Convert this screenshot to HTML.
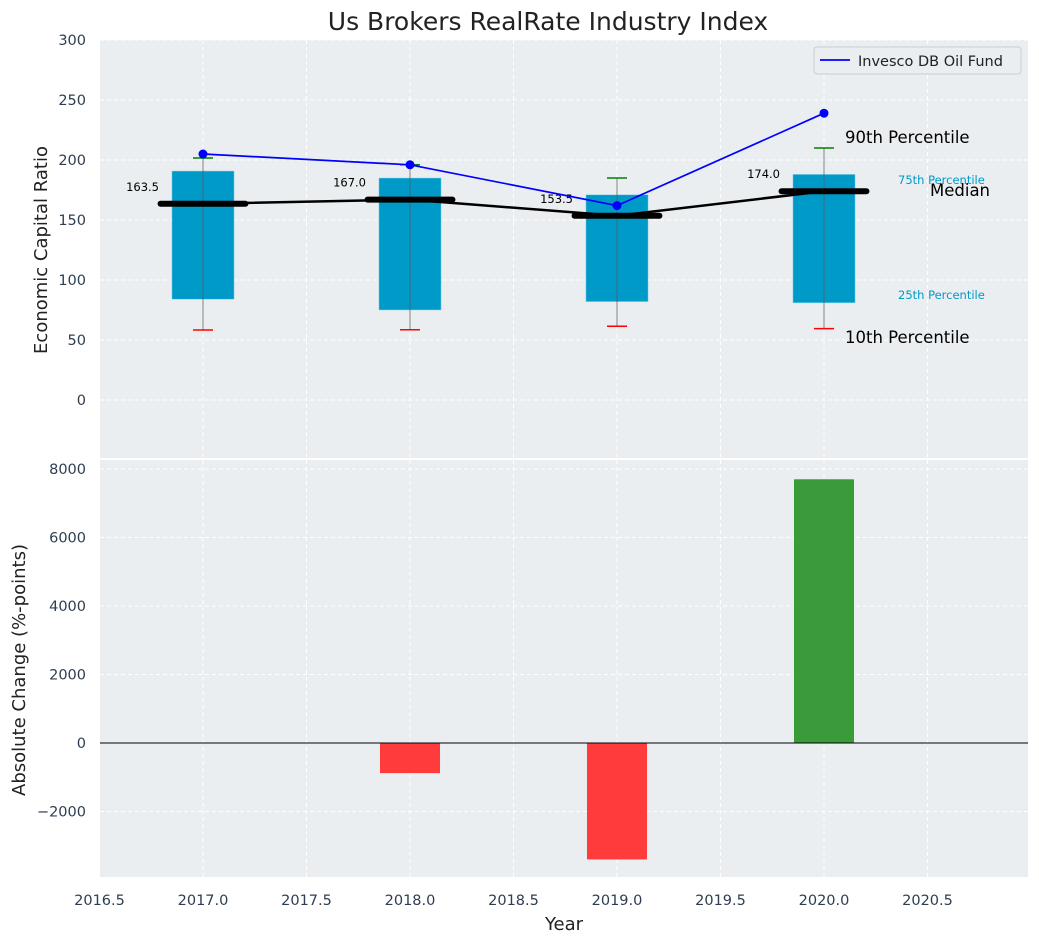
<!DOCTYPE html>
<html><head><meta charset="utf-8"><style>
body{margin:0;background:#fff;font-family:"Liberation Sans","DejaVu Sans",sans-serif}
svg text{font-family:"DejaVu Sans","Liberation Sans",sans-serif}
</style></head><body>
<svg id="c" width="1039" height="942" xmlns="http://www.w3.org/2000/svg">
<g id="gtop"></g><g id="gbot"></g>
</svg>
<script>
const years=[2017,2018,2019,2020];
const p10=[58.3,58.5,61.5,59.5];
const q25=[84,75,82,81];
const medians=[163.5,167.0,153.5,174.0];
const q75=[190.8,185,171,188];
const p90=[201.7,196,185,210];
const oil=[205,196,162,239];
const change=[0,-880,-3400,7700];
const topTicks=[0,50,100,150,200,250,300];
const botTicks=[-2000,0,2000,4000,6000,8000];
const xTicks=[2016.5,2017,2017.5,2018,2018.5,2019,2019.5,2020,2020.5];

const NS='http://www.w3.org/2000/svg';
const L=100,R=1028;
const X=v=>99.5+(v-2016.5)*207;
const YT=v=>400-v*1.2;
const YB=v=>743-v*0.03425;
function el(p,t,a,txt){const e=document.createElementNS(NS,t);for(const k in a)e.setAttribute(k,a[k]);if(txt!==undefined)e.textContent=txt;p.appendChild(e);return e;}
const svg=document.getElementById('c');
const gTop=document.getElementById('gtop'),gBot=document.getElementById('gbot');

let b=el(gTop,'rect',{x:L,y:40,width:R-L,height:418,fill:'#eaeef0'});


b=el(gBot,'rect',{x:L,y:460,width:R-L,height:417,fill:'#eaeef0'});



xTicks.forEach(t=>{
 el(gTop,'line',{x1:X(t),x2:X(t),y1:40,y2:458,stroke:'#fff','stroke-dasharray':'4,3','stroke-width':1});
 el(gBot,'line',{x1:X(t),x2:X(t),y1:460,y2:877,stroke:'#fff','stroke-dasharray':'4,3','stroke-width':1});
 const tx=el(svg,'text',{x:X(t),y:905,'text-anchor':'middle','font-size':14.5,fill:'#2e3e50'},t.toFixed(1));
 
 
});
topTicks.forEach(t=>{
 el(gTop,'line',{x1:L,x2:R,y1:YT(t),y2:YT(t),stroke:'#fff','stroke-dasharray':'4,3'});
 const tx=el(gTop,'text',{x:86,y:YT(t)+5,'text-anchor':'end','font-size':14.5,fill:'#2e3e50'},t);
 
 
});
botTicks.forEach(t=>{
 el(gBot,'line',{x1:L,x2:R,y1:YB(t),y2:YB(t),stroke:'#fff','stroke-dasharray':'4,3'});
 const tx=el(gBot,'text',{x:86,y:YB(t)+5,'text-anchor':'end','font-size':14.5,fill:'#2e3e50'},t<0?'\u2212'+(-t):t);
 
 
});

years.forEach((y,i)=>{
 const x=X(y);
 const r=el(gTop,'rect',{x:x-0.15*207,y:YT(q75[i]),width:0.3*207,height:YT(q25[i])-YT(q75[i]),fill:'#009ac9',stroke:'#8fd3e8','stroke-width':0.5});
 
 
 el(gTop,'line',{x1:x,x2:x,y1:YT(p90[i]),y2:YT(p10[i]),stroke:'#555','stroke-width':1,opacity:0.7});
 const c1=el(gTop,'line',{x1:x-10,x2:x+10,y1:YT(p90[i]),y2:YT(p90[i]),stroke:'green','stroke-width':1.5});
 
 
 const c2=el(gTop,'line',{x1:x-10,x2:x+10,y1:YT(p10[i]),y2:YT(p10[i]),stroke:'red','stroke-width':1.5});
 
 
});
let pts=years.map((y,i)=>X(y)+','+YT(medians[i])).join(' ');
let ml=el(gTop,'polyline',{points:pts,fill:'none',stroke:'#000','stroke-width':2.5});


years.forEach((y,i)=>{
 const x=X(y);
 const m=el(gTop,'line',{x1:x-0.205*207,x2:x+0.205*207,y1:YT(medians[i]),y2:YT(medians[i]),stroke:'#000','stroke-width':6,'stroke-linecap':'round'});
 
 
 const t=el(gTop,'text',{x:x-44,y:YT(medians[i])-13,'text-anchor':'end','font-size':11.5,fill:'#000'},medians[i].toFixed(1));
 
 
});
pts=years.map((y,i)=>X(y)+','+YT(oil[i])).join(' ');
let ol=el(gTop,'polyline',{points:pts,fill:'none',stroke:'#0000ff','stroke-width':1.7});


years.forEach((y,i)=>{
 const c=el(gTop,'circle',{cx:X(y),cy:YT(oil[i]),r:4.5,fill:'#0000ff'});
 
 
});
[['90th Percentile',845,143,16.5,'#000'],['10th Percentile',845,343,16.5,'#000'],['75th Percentile',898,184,11.5,'#009ac9'],['25th Percentile',898,299,11.5,'#009ac9'],['Median',930,196,16.5,'#000']].forEach(a=>{
 const t=el(gTop,'text',{x:a[1],y:a[2],'font-size':a[3],fill:a[4]},a[0]);
 
 
});
const lg=el(gTop,'g',{});


el(lg,'rect',{x:814,y:47,width:207,height:27,rx:3,fill:'#eaeef0',stroke:'#ccc'});
el(lg,'line',{x1:820,x2:850,y1:60,y2:60,stroke:'#0000ff','stroke-width':1.7});
el(lg,'text',{x:858,y:66,'font-size':14.5,fill:'#222'},'Invesco DB Oil Fund');

years.forEach((y,i)=>{
 const v=change[i];
 const r=el(gBot,'rect',{x:X(y)-0.145*207,y:Math.min(YB(v),YB(0)),width:0.29*207,height:Math.abs(YB(v)-YB(0)),fill:v>=0?'#3a9b3a':'#ff3b3b'});
 
 
});
el(gBot,'line',{x1:L,x2:R,y1:YB(0),y2:YB(0),stroke:'#000','stroke-width':1});

let t=el(svg,'text',{x:548,y:30,'text-anchor':'middle','font-size':25,fill:'#222'},'Us Brokers RealRate Industry Index');

t=el(svg,'text',{x:564,y:930,'text-anchor':'middle','font-size':18,fill:'#222'},'Year');

t=el(svg,'text',{x:47,y:250,'text-anchor':'middle','font-size':18,fill:'#222',transform:'rotate(-90 47 250)'},'Economic Capital Ratio');

t=el(svg,'text',{x:25,y:670,'text-anchor':'middle','font-size':18,fill:'#222',transform:'rotate(-90 25 670)'},'Absolute Change (%-points)');

</script>
</body></html>
